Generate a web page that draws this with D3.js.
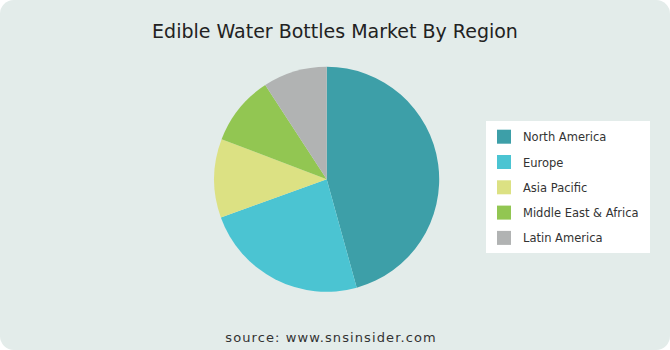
<!DOCTYPE html>
<html>
<head>
<meta charset="utf-8">
<script src="https://cdn.jsdelivr.net/npm/d3@7"></script>
<style>
    body { margin: 0; background: #ffffff; }
    svg { display: block; }
</style>
</head>
<body>
<svg id="chart"></svg>
<script>
const regions = ["North America", "Europe", "Asia Pacific", "Middle East & Africa", "Latin America"];
const shares = [45.7, 23.8, 11.3, 10.0, 9.2];
const colors = ["#3d9fa8", "#4bc4d2", "#dce183", "#92c652", "#b1b3b3"];

const width = 670;
const height = 350;
const font = "'DejaVu Sans', sans-serif";

const svg = d3.select("#chart")
    .attr("width", width)
    .attr("height", height);

// background card
svg.append("rect")
    .attr("x", 0).attr("y", 0)
    .attr("width", width).attr("height", height)
    .attr("rx", 14)
    .attr("fill", "#e3ecea");

svg.append("text")
    .attr("x", 335)
    .attr("y", 38)
    .attr("text-anchor", "middle")
    .attr("font-family", font)
    .attr("font-size", 19)
    .attr("fill", "#222")
    .text("Edible Water Bottles Market By Region");

// pie
const pie = d3.pie().sort(null);
const arc = d3.arc().innerRadius(0).outerRadius(112.5);
const color = d3.scaleOrdinal().domain(regions).range(colors);

const g = svg.append("g")
    .attr("transform", "translate(326.7, 179.3)");

g.selectAll("path")
    .data(pie(shares))
    .enter()
    .append("path")
    .attr("d", arc)
    .attr("fill", (d, i) => color(regions[i]));

// legend
const legend = svg.append("g").attr("transform", "translate(486, 121)");
legend.append("rect")
    .attr("width", 164).attr("height", 132)
    .attr("fill", "#ffffff");

const rows = legend.selectAll("g.row")
    .data(regions)
    .enter()
    .append("g")
    .attr("class", "row")
    .attr("transform", (d, i) => `translate(11, ${15.7 + i * 25.3})`);

rows.append("rect")
    .attr("y", -7)
    .attr("width", 14).attr("height", 14)
    .attr("fill", d => color(d));

rows.append("text")
    .attr("x", 26)
    .attr("y", 4.5)
    .attr("font-family", font)
    .attr("font-size", 11.5)
    .attr("fill", "#333")
    .text(d => d);

svg.append("text")
    .attr("x", 331)
    .attr("y", 342)
    .attr("text-anchor", "middle")
    .attr("font-family", font)
    .attr("font-size", 13)
    .attr("letter-spacing", 1.1)
    .attr("fill", "#333")
    .text("source: www.snsinsider.com");
</script>
</body>
</html>
